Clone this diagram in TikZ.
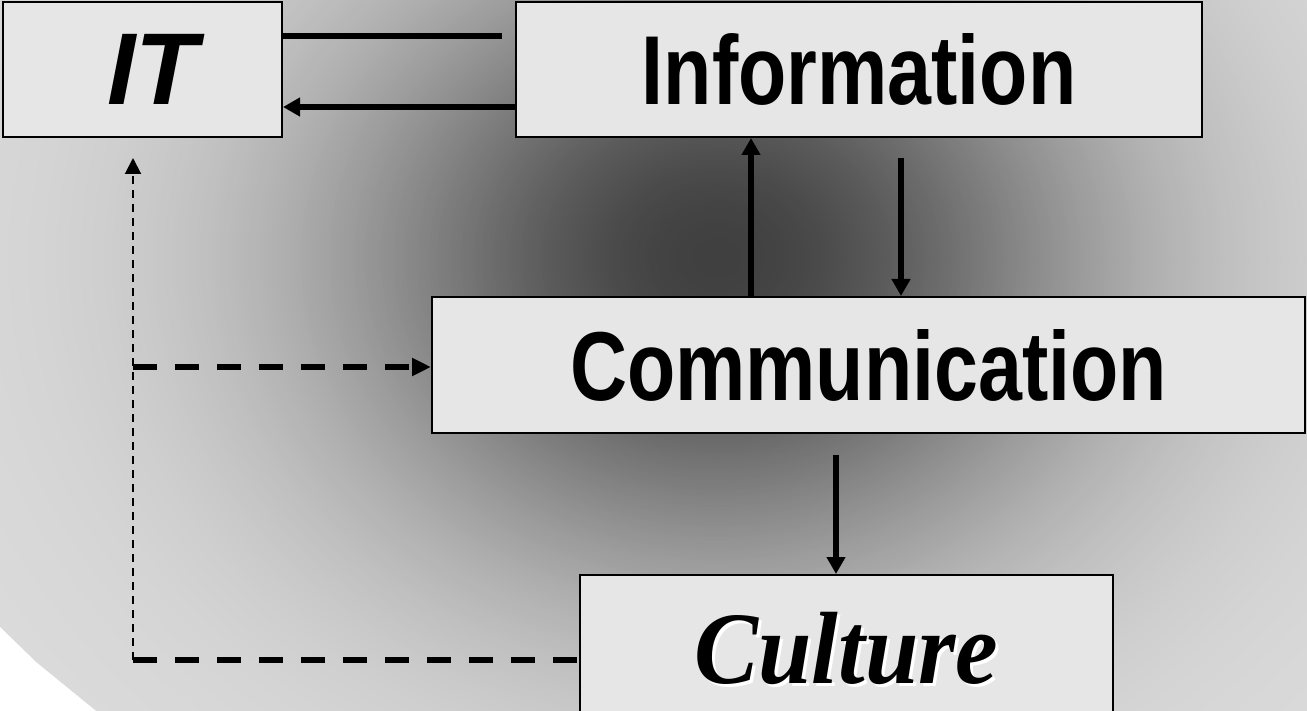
\documentclass[tikz,border=0pt]{standalone}
\usepackage{fontspec}
\setmainfont{Liberation Serif}
\setsansfont{Liberation Sans}
\usepackage{graphicx}
\usetikzlibrary{arrows.meta,calc,positioning}

\definecolor{boxgray}{HTML}{E6E6E6}

\newcommand{\sanslabel}[1]{\scalebox{1}[1.24]{\fontsize{79}{80}\selectfont\sffamily\bfseries #1}}
\newcommand{\itlabel}[1]{\fontsize{102}{103}\selectfont\sffamily\bfseries\itshape\kern20pt #1}
\newcommand{\shadowed}[1]{\rlap{\kern3pt\raisebox{-3pt}{\color{white}#1}}#1}
\newcommand{\cultlabel}[1]{\scalebox{1}[1.07]{\fontsize{96}{98}\selectfont\rmfamily\bfseries\itshape\shadowed{#1}}}

\tikzset{
  box/.style={rectangle, draw, line width=2pt, fill=boxgray, inner sep=0pt},
  flow/.style={line width=6pt, -{Triangle[length=17pt,width=18pt]}},
  dashflow/.style={line width=6pt, dash pattern=on 24pt off 18pt, -{Triangle[length=19pt,width=17pt]}},
  dashline/.style={line width=6pt, dash pattern=on 24pt off 18pt},
  dotflow/.style={line width=2pt, dash pattern=on 8pt off 6pt, -{Triangle[length=16pt,width=16pt]}}
}

\begin{document}
\begin{tikzpicture}[x=1pt,y=-1pt]
    \useasboundingbox (0,0) rectangle (1307,711);
    \clip (0,0) rectangle (1307,711);
    % background glow, outside in
    \foreach \r in {1300,1296,...,4} {
      \pgfmathsetmacro\shadepct{14+61*exp(-(\r/390)^2)}
      \pgfmathsetmacro\ry{0.83*\r}
      \fill[black!\shadepct] (717,258) ellipse [x radius=\r pt, y radius=\ry pt];
    }
    \fill[white] (0,627) -- (36,662) -- (96,711) -- (0,711) -- cycle;
    % boxes
    \node(it) [box, minimum width=279pt, minimum height=135pt] at (142.5,69.5) {\itlabel{IT}};
    \node(info) [box, minimum width=686pt, minimum height=135pt] at (859,69.5) {\sanslabel{Information}};
    \node(comm) [box, minimum width=873pt, minimum height=136pt] at (868.5,365) {\sanslabel{Communication}};
    \node(cult) [box, minimum width=533pt, minimum height=150pt] at (846.5,650) {\cultlabel{Culture}};
    % helper points
    \coordinate (topend) at (502,36);
    \coordinate (backy) at (0,107);
    \coordinate (upx) at (751,0);
    \coordinate (downstart) at (901,158);
    \coordinate (cultstart) at (836,455);
    \coordinate (mid) at (133,367);
    \coordinate (corner) at (133,660);
    \coordinate (ittip) at (133,158);
    % connectors
    \draw[line width=6.5pt] (it.east |- topend) -- (topend);
    \draw[flow, line width=6.5pt] (info.west |- backy) -- (it.east |- backy);
    \draw[flow] (upx |- comm.north) -- (upx |- info.south);
    \draw[flow] (downstart) -- (downstart |- comm.north);
    \draw[flow] (cultstart) -- (cultstart |- cult.north);
    \draw[dashflow] (mid) -- (mid -| comm.west);
    \draw[dashline] (corner) -- (corner -| cult.west);
    \draw[dotflow] (corner) -- (ittip);
\end{tikzpicture}
\end{document}
